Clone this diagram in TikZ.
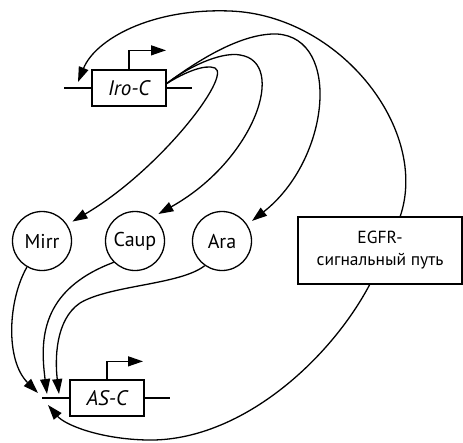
\documentclass[tikz,border=0pt]{standalone}
\usepackage{fontspec}
\setmainfont{PT Sans}
\usetikzlibrary{arrows.meta,calc}
\begin{document}
\begin{tikzpicture}[x=1pt,y=-1pt,
  line width=1.3pt,
  tip/.style={-{Triangle[length=15pt,width=10pt]}},
  gene/.style={draw,minimum width=74pt,minimum height=36pt,inner sep=0pt,
    font=\fontsize{21}{24}\selectfont\itshape},
  factor/.style={draw,circle,minimum size=59pt,inner sep=0pt,
    font=\fontsize{20}{24}\selectfont},
  pathway/.style={draw,fill=white,minimum width=164pt,minimum height=67pt,
    align=center,inner sep=0pt,font=\fontsize{17.5}{22}\selectfont}]
\useasboundingbox (0,0) rectangle (463,442);

% genes with their DNA strands
\node[gene] (iro) at (129,88) {Iro-C};
\node[gene] (as) at (107,398) {AS-C};
\draw (64,88) -- (iro.west) (iro.east) -- (192,88);
\draw (42,398) -- (as.west) (as.east) -- (170,398);

% transcription start arrows
\draw[tip] (iro.north) -- ++(0,-19) -- ++(37,0);
\draw[tip] (as.north) -- ++(0,-18) -- ++(36,0);

% transcription factors
\node[factor] (mirr) at (42,241) {Mirr};
\node[factor] (caup) at (135,241) {Caup};
\node[factor] (ara) at (222,241) {Ara};

% signalling pathway
\node[pathway] (egfr) at (380,250.5) {EGFR-\\сигнальный путь};

% free ends of connectors
\coordinate (irout) at (166,84);
\coordinate (iroin) at (78,82);
\coordinate (egfrtop) at (400,217);
\coordinate (egfrbot) at (370,284);
\coordinate (asin1) at (38,393);
\coordinate (asin2) at (47,394);
\coordinate (asin3) at (59,394);
\coordinate (asin4) at (48,405);

% Iro-C activates Mirr, Caup and Ara
\draw[tip,shorten >=6pt] (irout) .. controls (185,72) and (205,64) .. (215,68)
  .. controls (232,76) and (160,170) .. (mirr.33);
\draw[tip,shorten >=6pt] (irout) .. controls (195,62) and (225,52) .. (240,55)
  .. controls (288,62) and (255,160) .. (caup.53);
\draw[tip,shorten >=6pt] (irout) .. controls (205,55) and (245,33) .. (277,34)
  .. controls (342,38) and (330,160) .. (ara.33);

% Mirr, Caup and Ara act on AS-C
\draw[tip] (mirr.240) .. controls (8,300) and (5,360) .. (asin1);
\draw[tip] (caup.225) .. controls (40,290) and (40,340) .. (asin2);
\draw[tip] (ara.235) .. controls (180,285) and (110,285) .. (80,303)
  .. controls (55,320) and (55,360) .. (asin3);

% EGFR pathway acts on both genes
\draw[tip] (egfrtop) .. controls (430,130) and (340,15) .. (230,11)
  .. controls (150,8) and (95,40) .. (iroin);
\draw[tip] (egfrbot) .. controls (330,360) and (240,442) .. (147,440)
  .. controls (100,439) and (65,425) .. (asin4);
\end{tikzpicture}
\end{document}
